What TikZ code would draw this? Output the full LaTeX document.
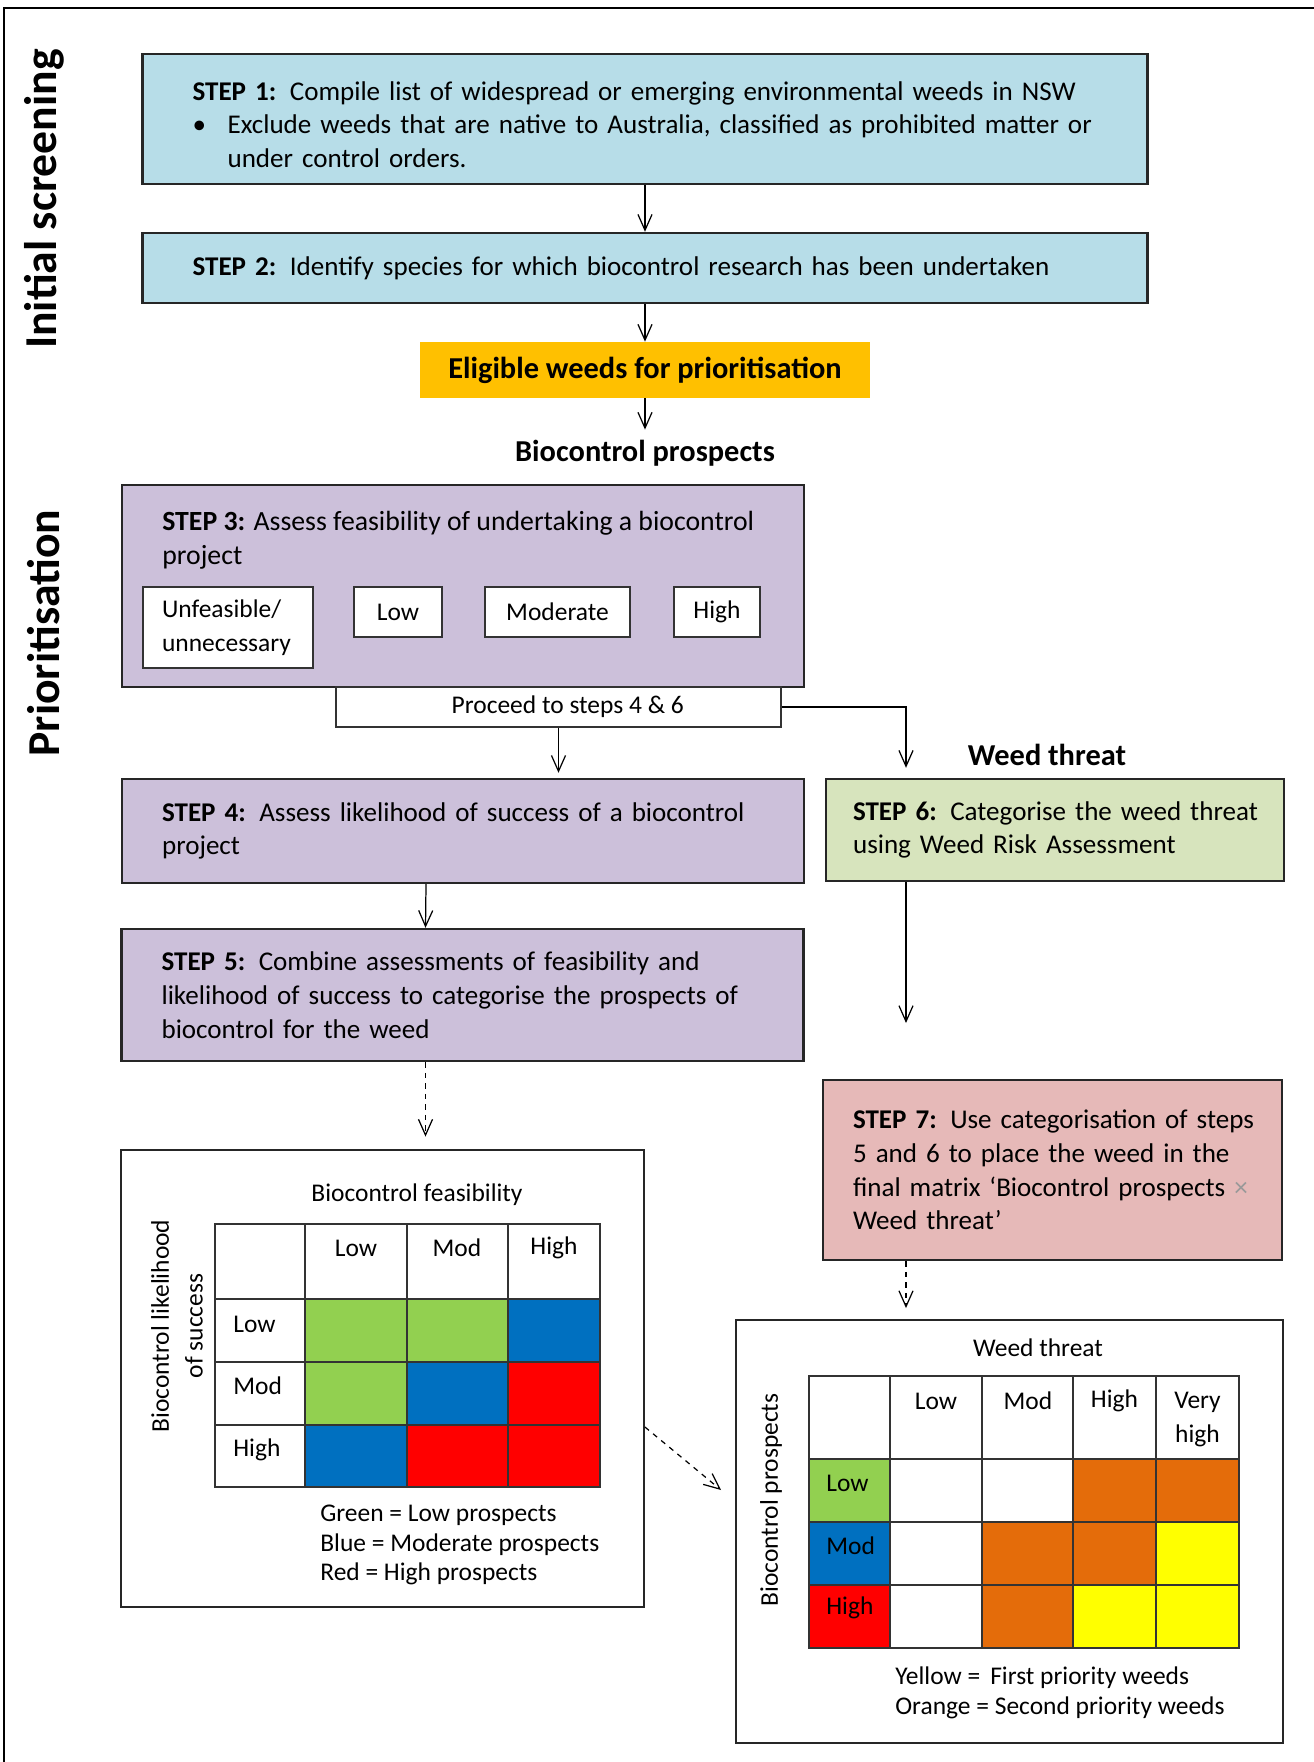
\documentclass[tikz,border=0pt]{standalone}
\usepackage{fontspec}
\setmainfont{Carlito}
\usetikzlibrary{arrows.meta}

\definecolor{scrblue}{HTML}{B7DDE8}
\definecolor{elorange}{HTML}{FFC000}
\definecolor{prpurple}{HTML}{CCC0DA}
\definecolor{thgreen}{HTML}{D7E4BD}
\definecolor{finpink}{HTML}{E6B9B8}
\definecolor{cgreen}{HTML}{92D050}
\definecolor{cblue}{HTML}{0070C0}
\definecolor{cred}{HTML}{FF0000}
\definecolor{corange}{HTML}{E46C0A}
\definecolor{cyellow}{HTML}{FFFF00}

\newcommand\basefont{\fontsize{14.5}{19.2}\selectfont}
\newcommand\stepfont{\fontsize{15.4}{19.2}\selectfont}
\newcommand\headfont{\fontsize{17.3}{20}\selectfont\bfseries}

\begin{document}
\begin{tikzpicture}[x=0.02cm,y=-0.02cm,inner sep=0pt,font=\basefont,
  stepbox/.style={draw=black!85,line width=1.4pt,align=left,font=\stepfont},
  optbox/.style={draw=black!80,fill=white,line width=0.9pt},
  mbox/.style={draw=black!85,line width=1.1pt},
  cellline/.style={draw=black!80,line width=0.6pt},
  arr/.style={-{Straight Barb[length=9pt,width=8pt]},line width=0.7pt},
  dasharr/.style={arr,dashed}]
\useasboundingbox (0,0) rectangle (1314,1762);

% outer frame and phase labels
\draw[line width=1.6pt] (4,1800) -- (4,8) -- (1340,8);
\node[rotate=90,font=\fontsize{26}{30}\selectfont\bfseries] (phase1) at (44,199) {Initial screening};
\node[rotate=90,font=\fontsize{26}{30}\selectfont\bfseries] (phase2) at (44,633) {Prioritisation};

% initial screening
\node[stepbox,fill=scrblue,text width=18.1cm,inner xsep=1cm,minimum height=2.6cm] (step1) at (645,119)
  {\rule{0pt}{17pt}\textbf{STEP 1:} Compile list of widespread or emerging environmental weeds in NSW\\
   \makebox[0.7cm][l]{\textbullet}Exclude weeds that are native to Australia, classified as prohibited matter or\\
   \hspace*{0.7cm}under control orders.};
\node[stepbox,fill=scrblue,text width=18.1cm,inner xsep=1cm,minimum height=1.4cm] (step2) at (645,268)
  {\textbf{STEP 2:} Identify species for which biocontrol research has been undertaken};
\node[fill=elorange,minimum width=9.02cm,minimum height=1.12cm,font=\headfont] (elig) at (645,370)
  {Eligible weeds for prioritisation};
\node[font=\headfont] (bpros) at (645,453) {Biocontrol prospects};

% prioritisation: feasibility
\node[stepbox,fill=prpurple,minimum width=13.64cm,minimum height=4.04cm] (step3) at (463,586) {};
\node[anchor=west,align=left,font=\fontsize{15.8}{19.2}\selectfont] (step3txt) at (162,540)
  {\textbf{STEP 3:} Assess feasibility of undertaking a biocontrol\\project};
\node[optbox,minimum width=3.4cm,minimum height=1.62cm,text width=2.64cm,align=left] (fnone) at (228,627.5)
  {Unfeasible/\\unnecessary};
\node[optbox,minimum width=1.76cm,minimum height=1cm] (flow) at (398,612) {Low};
\node[optbox,minimum width=2.9cm,minimum height=1cm] (fmod) at (557.5,612) {Moderate};
\node[optbox,minimum width=1.72cm,minimum height=1cm] (fhigh) at (717,612) {High};
\node[optbox,line width=1.1pt,minimum width=8.9cm,minimum height=0.8cm] (proceed) at (558.5,707)
  {\hspace*{0.37cm}Proceed to steps 4 \& 6};

\node[font=\headfont] (wthr) at (1047,755) {Weed threat};
\node[stepbox,fill=prpurple,text width=12.04cm,inner xsep=0.8cm,minimum height=2.08cm] (step4) at (463,831)
  {\textbf{STEP 4:} Assess likelihood of success of a biocontrol\\project};
\node[stepbox,fill=thgreen,text width=8.08cm,inner xsep=0.54cm,minimum height=2.04cm] (step6) at (1055,830)
  {\mbox{\textbf{STEP 6:} Categorise the weed threat}\\using Weed Risk Assessment};
\node[stepbox,fill=prpurple,text width=12.04cm,inner xsep=0.8cm,minimum height=2.64cm] (step5) at (462.5,995)
  {\textbf{STEP 5:} Combine assessments of feasibility and\\likelihood of success to categorise the prospects of\\biocontrol for the weed};
\node[stepbox,fill=finpink,text width=7.98cm,inner xsep=0.6cm,minimum height=3.6cm] (step7) at (1052.5,1170)
  {\mbox{\textbf{STEP 7:} Use categorisation of steps}\\5 and 6 to place the weed in the\\\mbox{final matrix `Biocontrol prospects \textcolor{black!40}{×}}\\Weed threat'};

% left matrix: feasibility x likelihood
\node[mbox,minimum width=10.46cm,minimum height=9.14cm] (lmat) at (382.5,1378.5) {};
\node (ltitle) at (417,1195) {Biocontrol feasibility};
\foreach \r/\cols in {1299/{cgreen,cgreen,cblue},1362/{cgreen,cblue,cred},1425/{cblue,cred,cred}}
  \foreach \c [count=\k] in \cols {
    \pgfmathsetmacro\xa{{305,407,508}[\k-1]}
    \pgfmathsetmacro\xb{{407,508,600}[\k-1]}
    \fill[\c] (\xa,\r) rectangle (\xb,\r+63);
  }
\draw[cellline] (215,1224) rectangle (600,1487);
\foreach \x in {305,407,508} \draw[cellline] (\x,1224) -- (\x,1487);
\foreach \y in {1299,1362,1425} \draw[cellline] (215,\y) -- (600,\y);
\foreach \t/\x [count=\k] in {Low/356,Mod/457,High/554} \node (lcol\k) at (\x,1248) {\t};
\foreach \t/\y [count=\k] in {Low/1324,Mod/1386,High/1450} \node[anchor=west] (lrow\k) at (233,\y) {\t};
\node[rotate=90,align=center] (lside) at (177,1326) {Biocontrol likelihood\\of success};
\node[anchor=west,align=left,font=\fontsize{14.5}{17}\selectfont] (lleg) at (320,1545)
  {Green = Low prospects\\Blue = Moderate prospects\\Red = High prospects};

% right matrix: prospects x weed threat
\node[mbox,minimum width=10.94cm,minimum height=8.46cm] (rmat) at (1009.5,1531.5) {};
\node (rtitle) at (1038,1348) {Weed threat};
\foreach \r/\cols in {1459/{cgreen,white,white,corange,corange},1522/{cblue,white,corange,corange,cyellow},1585/{cred,white,corange,cyellow,cyellow}}
  \foreach \c [count=\k] in \cols {
    \pgfmathsetmacro\xa{{809,890,982,1073,1156}[\k-1]}
    \pgfmathsetmacro\xb{{890,982,1073,1156,1239}[\k-1]}
    \fill[\c] (\xa,\r) rectangle (\xb,\r+63);
  }
\draw[cellline] (809,1376) rectangle (1239,1648);
\foreach \x in {890,982,1073,1156} \draw[cellline] (\x,1376) -- (\x,1648);
\foreach \y in {1459,1522,1585} \draw[cellline] (809,\y) -- (1239,\y);
\foreach \t/\x [count=\k] in {Low/936,Mod/1028,High/1114.5} \node (rcol\k) at (\x,1401) {\t};
\node[align=center] (rcol4) at (1197.5,1419.5) {Very\\high};
\foreach \t/\y [count=\k] in {Low/1483,Mod/1546,High/1608} \node[anchor=west] (rrow\k) at (826,\y) {\t};
\node[rotate=90] (rside) at (771,1500) {Biocontrol prospects};
\node[anchor=west,align=left,font=\fontsize{14.5}{17}\selectfont] (rleg) at (895,1693)
  {Yellow = \,First priority weeds\\Orange = Second priority weeds};

% connectors
\coordinate (thr) at (906,706);
\coordinate (thrend) at (906,1023);
\coordinate (diagend) at (721,1490);
\draw[arr] (step1) -- (step2);
\draw[arr] (step2) -- (elig);
\draw[arr,shorten >=0.2cm] (elig) -- (bpros);
\draw[arr,shorten >=0.1cm] (proceed.south) -- (proceed.south |- step4.north);
\draw[arr,shorten >=0.2cm] (proceed.east) -| (thr |- step6.north);
\draw[arr] (step6.south -| thr) -- (thrend);
\draw[arr] ([xshift=-0.74cm]step4.south) -- ([xshift=-0.74cm]step5.north);
\draw[dasharr,shorten >=0.25cm] ([xshift=-0.74cm]step5.south) -- ([xshift=-0.74cm]step5.south |- lmat.north);
\draw[dasharr,shorten >=0.22cm] (step7.south -| thr) -- (thr |- rmat.north);
\draw[dasharr] ([yshift=-0.97cm]lmat.east) -- (diagend);
\end{tikzpicture}
\end{document}
